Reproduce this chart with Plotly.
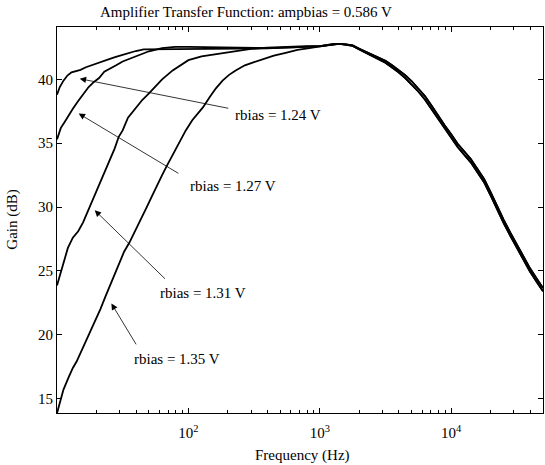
import plotly.graph_objects as go

# ---- data (frequency in Hz, gain in dB) ----
tail_freq = [1000, 1260, 1410, 1580, 1780, 2000, 2240, 2510, 2820, 3160,
             3550, 3980, 4470, 5010, 5620, 6310, 7080, 7940, 8910, 10000,
             11200, 12600, 14100, 15800, 17800, 20000, 22400, 25100, 28200, 31600,
             35500, 39800, 44700, 50000]
tail_gain_a = [42.6, 42.75, 42.78, 42.74, 42.66, 42.4, 42.15, 41.9, 41.68, 41.45,
               41.1, 40.75, 40.33, 39.85, 39.3, 38.7, 37.95, 37.15, 36.4, 35.7,
               34.95, 34.35, 33.75, 33.0, 32.2, 31.15, 30.05, 29.0, 28.0, 27.05,
               26.1, 25.2, 24.4, 23.65]
tail_gain_b = [42.58, 42.74, 42.78, 42.72, 42.62, 42.35, 42.08, 41.8, 41.55, 41.3,
               40.92, 40.55, 40.1, 39.6, 39.05, 38.42, 37.68, 36.88, 36.12, 35.42,
               34.7, 34.08, 33.5, 32.75, 31.95, 30.9, 29.8, 28.75, 27.75, 26.8,
               25.85, 24.95, 24.15, 23.4]

freq_124 = [10, 10.5, 11.2, 12.0, 12.9, 13.8, 15.1, 16.6, 18.2, 20.0,
            21.9, 24.0, 26.9, 30.2, 34.7, 39.8, 45.7, 53.7, 63.1, 79.4,
            100, 158, 251, 398, 631]
gain_124 = [38.8, 39.4, 39.9, 40.3, 40.55, 40.62, 40.75, 40.95, 41.1, 41.2,
            41.35, 41.5, 41.7, 41.85, 42.05, 42.22, 42.35, 42.36, 42.36, 42.36,
            42.36, 42.38, 42.4, 42.42, 42.5]

freq_127 = [10, 10.7, 11.5, 12.3, 13.2, 14.5, 15.8, 17.4, 19.1, 20.9,
            22.9, 25.1, 28.2, 31.6, 36.3, 41.7, 50.1, 63.1, 79.4, 100,
            158, 251, 398, 631]
gain_127 = [35.3, 36.2, 36.7, 37.2, 37.7, 38.3, 38.8, 39.4, 39.8, 40.1,
            40.6, 40.85, 41.1, 41.4, 41.65, 41.9, 42.2, 42.45, 42.55, 42.55,
            42.52, 42.47, 42.45, 42.5]

freq_131 = [10, 11.0, 12.1, 13.2, 14.5, 15.8, 17.4, 19.1, 20.9, 22.9,
            25.1, 27.5, 29.5, 31.6, 34.7, 39.8, 44.7, 50.1, 56.9, 63.1,
            75.9, 89.1, 100, 126, 172, 224, 309, 398, 589, 794]
gain_131 = [23.85, 25.3, 26.8, 27.6, 28.1, 28.8, 29.8, 30.7, 31.7, 32.6,
            33.6, 34.6, 35.5, 36.0, 37.0, 37.8, 38.4, 38.9, 39.5, 40.0,
            40.7, 41.2, 41.5, 41.8, 42.02, 42.22, 42.4, 42.48, 42.56, 42.6]

freq_135 = [10, 10.5, 11.2, 12.3, 13.2, 14.1, 15.3, 16.6, 17.8, 19.5,
            21.4, 23.4, 26.3, 29.5, 32.4, 35.5, 39.8, 43.7, 47.9, 52.5,
            57.5, 63.1, 67.6, 74.1, 81.3, 88.1, 95.5, 107, 117, 129,
            145, 162, 182, 204, 229, 269, 316, 363, 447, 550,
            676, 832]
gain_135 = [13.85, 14.6, 15.7, 16.7, 17.4, 17.9, 18.7, 19.5, 20.2, 21.0,
            22.0, 23.0, 24.3, 25.5, 26.5, 27.2, 28.2, 29.1, 29.94, 30.8,
            31.7, 32.5, 33.1, 33.9, 34.7, 35.3, 36.0, 36.8, 37.3, 37.8,
            38.6, 39.3, 39.9, 40.35, 40.7, 41.1, 41.35, 41.55, 41.85, 42.07,
            42.3, 42.44]

labels = ["rbias = 1.24 V", "rbias = 1.27 V", "rbias = 1.31 V", "rbias = 1.35 V"]
x_tickvals = [100, 1000, 10000]
x_ticktext = ["10<sup>2</sup>", "10<sup>3</sup>", "10<sup>4</sup>"]
x_minor = [20, 30, 40, 50, 60, 70, 80, 90,
           200, 300, 400, 500, 600, 700, 800, 900,
           2000, 3000, 4000, 5000, 6000, 7000, 8000, 9000,
           20000, 30000, 40000]
y_tickvals = [15, 20, 25, 30, 35, 40]

FONT = "Liberation Serif, Times New Roman, serif"

series = [
    (freq_124 + tail_freq, gain_124 + tail_gain_a),
    (freq_127 + tail_freq, gain_127 + tail_gain_a),
    (freq_131 + tail_freq, gain_131 + tail_gain_b),
    (freq_135 + tail_freq, gain_135 + tail_gain_b),
]

fig = go.Figure()
for (fx, gy), name in zip(series, labels):
    fig.add_trace(go.Scatter(x=fx, y=gy, mode="lines", name=name,
                             line=dict(color="black", width=1.8),
                             showlegend=False, hoverinfo="skip"))

# arrows: (head_x_log, head_y, tail_x_log, tail_y, label_x_log, label_y)
arrows = [
    (1.173, 40.05, 2.315, 37.71, 2.340, 37.22),
    (1.165, 37.32, 1.935, 32.57, 1.998, 31.63),
    (1.287, 29.75, 1.833, 24.27, 1.769, 23.23),
    (1.414, 22.45, 1.609, 19.13, 1.574, 18.07),
]
annotations = []
for (hx, hy, tx, ty, lx, ly), lab in zip(arrows, labels):
    annotations.append(dict(x=hx, y=hy, ax=tx, ay=ty, xref="x", yref="y",
                            axref="x", ayref="y", text="", showarrow=True,
                            arrowhead=2, arrowsize=1.6, arrowwidth=0.8,
                            arrowcolor="black", standoff=0, startstandoff=0))
    annotations.append(dict(x=lx, y=ly, xref="x", yref="y", text=lab,
                            showarrow=False, xanchor="left", yanchor="middle",
                            font=dict(family=FONT, size=15, color="black")))

annotations.append(dict(x=0.3895, y=1.038, xref="paper", yref="paper",
                        text="Amplifier Transfer Function: ampbias = 0.586 V",
                        showarrow=False, xanchor="center", yanchor="middle",
                        font=dict(family=FONT, size=15, color="black")))
annotations.append(dict(x=0.506, y=-0.1096, xref="paper", yref="paper",
                        text="Frequency (Hz)", showarrow=False,
                        xanchor="center", yanchor="middle",
                        font=dict(family=FONT, size=15, color="black")))
annotations.append(dict(x=-0.0933, y=0.5, xref="paper", yref="paper",
                        text="Gain (dB)", showarrow=False, textangle=-90,
                        xanchor="center", yanchor="middle",
                        font=dict(family=FONT, size=15, color="black")))

fig.update_layout(
    width=545, height=465,
    margin=dict(l=57, r=2, t=27, b=52),
    paper_bgcolor="white", plot_bgcolor="white",
    font=dict(family=FONT, size=15, color="black"),
    annotations=annotations,
    showlegend=False,
)
fig.update_xaxes(type="log", range=[1, 4.699],
                 tickvals=x_tickvals, ticktext=x_ticktext,
                 ticks="inside", ticklen=5, tickwidth=1, tickcolor="black",
                 ticklabelstandoff=6,
                 minor=dict(tickvals=x_minor, ticks="inside", ticklen=3,
                            tickwidth=1, tickcolor="black", showgrid=False),
                 showline=True, linecolor="black", linewidth=1, mirror="ticks",
                 showgrid=False, zeroline=False,
                 tickfont=dict(family=FONT, size=15, color="black"))
fig.update_yaxes(range=[13.87, 44.1], tickvals=y_tickvals,
                 ticks="inside", ticklen=5, tickwidth=1, tickcolor="black",
                 showline=True, linecolor="black", linewidth=1, mirror="ticks",
                 showgrid=False, zeroline=False,
                 tickfont=dict(family=FONT, size=15, color="black"))

# remove the page's default 8px body margin so the figure sits at the corner
fig.write_html("out.html",
               config={"displayModeBar": False, "staticPlot": True},
               post_script="document.body.style.margin='0';"
                           "document.body.style.overflow='hidden';")
